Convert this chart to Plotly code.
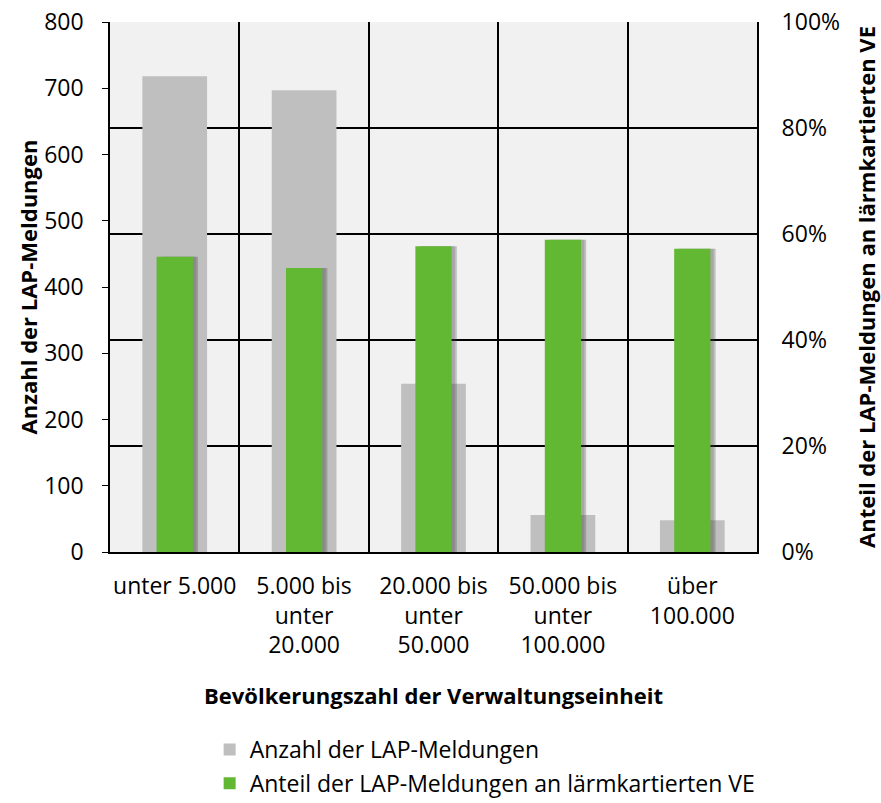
import plotly.graph_objects as go

categories = ["unter 5.000", "5.000 bis<br>unter<br>20.000", "20.000 bis<br>unter<br>50.000",
              "50.000 bis<br>unter<br>100.000", "über<br>100.000"]
anzahl = [718, 697, 254, 56, 48]
anteil = [0.557, 0.536, 0.577, 0.589, 0.572]

name_anzahl = "Anzahl der LAP-Meldungen"
name_anteil = "Anteil der LAP-Meldungen an lärmkartierten VE"
x_title = "Bevölkerungszahl der Verwaltungseinheit"
y_title = "Anzahl der LAP-Meldungen"

FONT = "Open Sans"
GRAY = "#bfbfbf"
GREEN = "#62b832"

fig = go.Figure()
fig.add_trace(go.Bar(x=categories, y=anzahl, name=name_anzahl, legendgroup="a",
                     marker=dict(color=GRAY, line=dict(width=0)), width=0.5, yaxis="y"))
# soft shadow of green bars
fig.add_trace(go.Bar(x=categories, y=anteil, showlegend=False, hoverinfo="skip",
                     marker=dict(color="rgba(60,60,60,0.28)", line=dict(width=0)),
                     width=0.28, offset=-0.10, yaxis="y2"))
fig.add_trace(go.Bar(x=categories, y=anteil, showlegend=False, hoverinfo="skip",
                     marker=dict(color="rgba(60,60,60,0.18)", line=dict(width=0)),
                     width=0.28, offset=-0.115, yaxis="y2"))
fig.add_trace(go.Bar(x=categories, y=anteil, name=name_anteil, legendgroup="b",
                     marker=dict(color=GREEN, line=dict(width=0)), width=0.28, yaxis="y2"))

fig.update_layout(
    width=881, height=803,
    margin=dict(l=110, r=124, t=22, b=251, autoexpand=False),
    paper_bgcolor="white",
    plot_bgcolor="#f1f1f1",
    font=dict(family=FONT, size=23, color="black"),
    barmode="overlay",
    showlegend=True,
    legend=dict(orientation="v", x=0.154, xanchor="left", y=-0.332, yanchor="top",
                font=dict(size=23), itemwidth=30, bgcolor="rgba(0,0,0,0)",
                traceorder="grouped", tracegroupgap=1),
    xaxis=dict(
        type="category", tickson="boundaries", showgrid=True, gridcolor="black", gridwidth=1.5,
        ticks="", showline=True, linecolor="black", linewidth=2, automargin=False, tickangle=0,
        title=dict(text="<b>" + x_title + "</b>", font=dict(size=22), standoff=29),
        ticklabelstandoff=12,
    ),
    yaxis=dict(
        range=[0, 800], dtick=100, showgrid=False, zeroline=False, automargin=False,
        showline=True, linecolor="black", linewidth=1.5, ticks="outside", ticklen=6, tickcolor="black",
        title=dict(text="<b>" + y_title + "</b>", font=dict(size=22), standoff=0),
        ticklabelstandoff=14,
    ),
    yaxis2=dict(
        overlaying="y", side="right", range=[0, 1], dtick=0.2, tickformat=".0%",
        showgrid=True, gridcolor="black", gridwidth=2, zeroline=False, automargin=False,
        showline=True, linecolor="black", linewidth=2, ticks="",
        title=dict(text="<b>" + name_anteil + "</b>", font=dict(size=22), standoff=30),
        ticklabelstandoff=18,
    ),
)

fig.write_html("out.html", config={"displayModeBar": False},
               post_script="document.body.style.margin='0';")
